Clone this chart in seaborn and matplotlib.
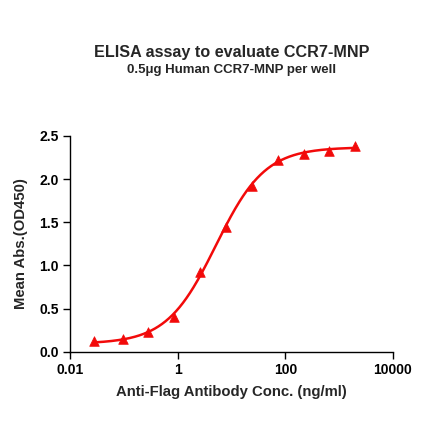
import numpy as np
import matplotlib
matplotlib.use("Agg")
import matplotlib.pyplot as plt
import seaborn as sns
import pandas as pd

# data
conc = [0.028, 0.098, 0.285, 0.87, 2.6, 7.9, 23.7, 72, 219, 656, 1950]
od450 = [0.13, 0.145, 0.225, 0.40, 0.93, 1.45, 1.92, 2.22, 2.295, 2.32, 2.385]

df = pd.DataFrame({"conc": conc, "od": od450})

# simple 4PL fit (grid over EC50 / hill, linear solve for bottom / top)
lx = np.log10(df["conc"].values)
y = df["od"].values
best = None
for lec in np.linspace(-1, 2, 301):
    for h in np.linspace(0.5, 2.5, 201):
        s = 1 / (1 + 10 ** ((lec - lx) * h))
        A = np.column_stack([1 - s, s])
        coef, *_ = np.linalg.lstsq(A, y, rcond=None)
        err = np.sum((A @ coef - y) ** 2)
        if best is None or err < best[0]:
            best = (err, lec, h, coef)
_, lec, h, (bottom, top) = best
xf = np.logspace(lx.min(), lx.max(), 300)
sf = 1 / (1 + 10 ** ((lec - np.log10(xf)) * h))
fit = pd.DataFrame({"conc": xf, "od": bottom + (top - bottom) * sf})

red = "#f20a0a"

sns.set_style("ticks")
plt.rcParams["font.family"] = ["Liberation Sans", "DejaVu Sans"]
plt.rcParams["font.weight"] = "bold"

fig = plt.figure(figsize=(4.4, 4.41), dpi=100)
ax = fig.add_axes([0.159, 0.202, 0.734, 0.49])

sns.lineplot(data=fit, x="conc", y="od", color=red, linewidth=1.8, ax=ax)
sns.scatterplot(data=df, x="conc", y="od", marker="^", color=red,
                s=48, edgecolor=red, linewidth=0.5, zorder=3, ax=ax)

ax.set_xscale("log")
ax.set_xlim(0.01, 10000)
ax.set_ylim(0, 2.5)
ax.set_xticks([0.01, 1, 100, 10000])
ax.set_xticklabels(["0.01", "1", "100", "10000"])
ax.minorticks_off()
ax.set_yticks([0, 0.5, 1.0, 1.5, 2.0, 2.5])
ax.set_yticklabels(["0.0", "0.5", "1.0", "1.5", "2.0", "2.5"])
ax.tick_params(labelsize=10, length=5, width=1, colors="black", pad=3)
for lab in ax.get_xticklabels() + ax.get_yticklabels():
    lab.set_fontweight("bold")
sns.despine(ax=ax)
for sp in ["left", "bottom"]:
    ax.spines[sp].set_linewidth(1)
    ax.spines[sp].set_color("black")

ax.set_xlabel("Anti-Flag Antibody Conc. (ng/ml)", fontsize=10.7, fontweight="bold", labelpad=6)
ax.set_ylabel("Mean Abs.(OD450)", fontsize=10.7, fontweight="bold", labelpad=8)

fig.text(0.527, 0.880, "ELISA assay to evaluate CCR7-MNP", ha="center", va="center",
         fontsize=11.6, fontweight="bold")
fig.text(0.527, 0.841, "0.5\u03bcg Human CCR7-MNP per well", ha="center", va="center",
         fontsize=9.5, fontweight="bold")

fig.savefig("out.png", dpi=100)
